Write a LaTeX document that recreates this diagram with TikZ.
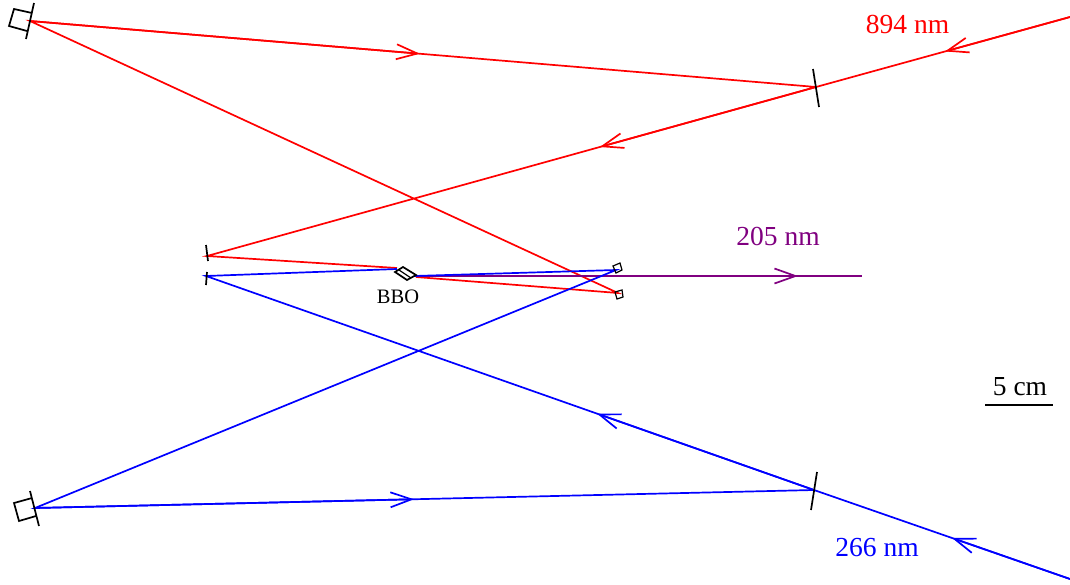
\documentclass[tikz,border=0pt]{standalone}
\usepackage{fontspec}
\setmainfont{Liberation Serif}
\usetikzlibrary{arrows.meta,calc}
\definecolor{uvpurple}{RGB}{128,0,128}
\tikzset{
  x=1pt,y=-1pt,
  beam/.style={line width=1.7pt,line join=miter},
  tipped/.style={beam,-{Straight Barb[length=21pt,width=15pt,line width=1.7pt]}},
  optic/.style={draw=black,line width=1.7pt},
  thinoptic/.style={draw=black,line width=1.2pt},
  lbl/.style={font=\fontsize{27.5}{30}\selectfont,inner sep=0pt},
  smalllbl/.style={font=\fontsize{20.5}{22}\selectfont,inner sep=0pt}
}
\begin{document}
\begin{tikzpicture}
\useasboundingbox (0,0) rectangle (1070,584);
% beam vertices
\coordinate (rIn) at (1070,17);
\coordinate (rM1) at (816,87);
\coordinate (rM2) at (207,256);
\coordinate (rC1) at (397,268);
\coordinate (rC2) at (416,277);
\coordinate (rS) at (618,293);
\coordinate (rM3) at (30,21);
\coordinate (bIn) at (1070,579);
\coordinate (bM1) at (814,490);
\coordinate (bM2) at (206,276);
\coordinate (bC1) at (397,269);
\coordinate (bC2) at (414,276);
\coordinate (bS) at (616,270);
\coordinate (bM3) at (35,508);
\coordinate (pEnd) at (862,276);
% arrow tips, on the beams
\coordinate (rT1) at ($(rIn)!0.492!(rM1)$);
\coordinate (rT2) at ($(rM1)!0.355!(rM2)$);
\coordinate (rT3) at ($(rM3)!0.496!(rM1)$);
\coordinate (bT1) at ($(bIn)!0.461!(bM1)$);
\coordinate (bT2) at ($(bM1)!0.357!(bM2)$);
\coordinate (bT3) at ($(bM3)!0.4865!(bM1)$);
\coordinate (pT) at (798,276);
% red beam
\draw[red,beam] (rIn)--(rM1)--(rM2)--(rC1) (rC2)--(rS)--(rM3)--(rM1);
\draw[red,tipped] (rIn)--(rT1);
\draw[red,tipped] (rM1)--(rT2);
\draw[red,tipped] (rM3)--(rT3);
% purple beam
\draw[uvpurple,beam] (bC2)--(pEnd);
\draw[uvpurple,tipped] (bC2)--(pT);
% blue beam
\draw[blue,beam] (bIn)--(bM1)--(bM2)--(bC1) (bC2)--(bS)--(bM3)--(bM1);
\draw[blue,tipped] (bIn)--(bT1);
\draw[blue,tipped] (bM1)--(bT2);
\draw[blue,tipped] (bM3)--(bT3);
% flat mirrors
\draw[optic] (813,69)--(819,107);
\draw[optic] (817,472)--(811,510);
\draw[optic] (206,245)--(208,261);
\draw[optic] (207,272)--(206,285);
% mounted mirrors
\draw[optic] (34,3)--(26,39);
\draw[optic] (32,13)--(14,9)--(9,26)--(27,31);
\draw[optic] (30,491)--(39,526);
\draw[optic] (32,498)--(14,503)--(19,521)--(36,516);
% small mirrors
\draw[thinoptic] (613,266)--(620,263)--(622,270)--(616,273)--cycle;
\draw[thinoptic] (615,292)--(622,290)--(623,297)--(617,299)--cycle;
% BBO crystal
\draw[optic,line join=miter] (395,272)--(403,267)--(416,275)--(407,280)--cycle;
\draw[thinoptic] (399,270)--(411,278);
% labels
\node[lbl,text=red] (l894) at (907.5,24) {894 nm};
\node[lbl,text=uvpurple] (l205) at (778,236) {205 nm};
\node[lbl,text=blue] (l266) at (877,548) {266 nm};
\node[smalllbl] (lbbo) at (398,297) {BBO};
\node[lbl] (l5) at (1020,387) {5 cm};
\coordinate (sA) at (985,405);
\coordinate (sB) at (1053,405);
\draw[black,line width=1.7pt] (sA)--(sB);
\end{tikzpicture}
\end{document}
